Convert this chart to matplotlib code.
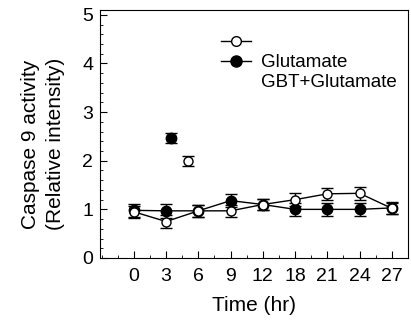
import matplotlib
matplotlib.use("Agg")
import matplotlib.pyplot as plt
import numpy as np
from matplotlib.lines import Line2D
from matplotlib.ticker import MultipleLocator

plt.rcParams["font.family"] = ["Liberation Sans", "DejaVu Sans"]

time_labels = ["0", "3", "6", "9", "12", "18", "21", "24", "27"]

glu = [0.95, 0.75, 0.97, 0.97, 1.10, 1.20, 1.32, 1.33, 1.02]
glu_err = [0.12, 0.13, 0.12, 0.12, 0.12, 0.14, 0.12, 0.14, 0.12]
gbt = [0.98, 0.97, 0.97, 1.18, 1.10, 1.00, 1.00, 1.00, 1.03]
gbt_err = [0.14, 0.14, 0.12, 0.14, 0.12, 0.13, 0.13, 0.13, 0.13]

# stray points drawn apart from the curves
glu_extra_x = [1.67]
glu_extra = [2.0]
gbt_extra_x = [1.15]
gbt_extra = [2.47]
extra_err = [0.10]

fig = plt.figure(figsize=(4.11, 3.2), dpi=100)
ax = fig.add_axes([100 / 411, 62 / 320, 308 / 411, 248 / 320])

x = np.arange(len(time_labels))
common = dict(color="black", lw=1.0, capsize=4, elinewidth=1.0, capthick=1.0)
ax.errorbar(x, glu, yerr=glu_err, fmt="-o", ms=6.5, mfc="white", mec="black", **common, zorder=3)
ax.errorbar(x, gbt, yerr=gbt_err, fmt="-o", ms=7.5, mfc="black", mec="black", **common, zorder=2)
ax.errorbar(glu_extra_x, glu_extra, yerr=extra_err, fmt="o", ms=6.5, mfc="white", mec="black", **common)
ax.errorbar(gbt_extra_x, gbt_extra, yerr=extra_err, fmt="o", ms=7.5, mfc="black", mec="black", **common)

ax.set_xlim(-1.05, 8.5)
ax.set_ylim(0, 5.1)
ax.set_xticks(x)
ax.set_xticklabels(time_labels)
ax.xaxis.set_minor_locator(MultipleLocator(0.5))
ax.set_yticks(range(6))
ax.yaxis.set_minor_locator(MultipleLocator(0.2))
ax.tick_params(which="both", direction="in", top=False, right=False, labelsize=14)
ax.tick_params(which="major", length=5)
ax.tick_params(which="minor", length=2.5)
ax.tick_params(axis="x", pad=7)
ax.tick_params(axis="y", pad=5)

ax.set_xlabel("Time (hr)", fontsize=15, labelpad=8)
ax.set_ylabel("Caspase 9 activity\n(Relative intensity)", fontsize=15,
              linespacing=1.35)
ax.yaxis.set_label_coords(-0.115, 0.46)

handles = [
    Line2D([], [], color="black", marker="o", mfc="white", ms=7, lw=1),
    Line2D([], [], color="black", marker="o", mfc="black", ms=8, lw=1),
    Line2D([], [], color="none"),
]
ax.legend(handles, ["", "Glutamate", "GBT+Glutamate"], loc="upper left",
          bbox_to_anchor=(0.37, 0.93), frameon=False, fontsize=13.5,
          handlelength=1.6, labelspacing=0.12, handletextpad=0.5,
          borderaxespad=0.0)

fig.savefig("out.png", dpi=100)
